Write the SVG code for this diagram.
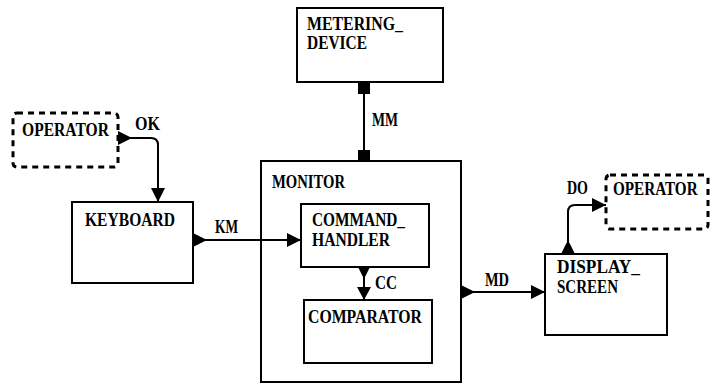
<svg xmlns="http://www.w3.org/2000/svg" width="714" height="386" viewBox="0 0 714 386">
<style>
.box{fill:#fff;stroke:#000;stroke-width:2}
.ext{fill:#fff;stroke:#000;stroke-width:3;stroke-dasharray:6 5}
.ln{fill:none;stroke:#000;stroke-width:2}
.ah{fill:#000;stroke:none}
text{font-family:"Liberation Serif","Times New Roman",serif;font-size:19px;font-weight:bold;fill:#000}
</style>
<rect width="714" height="386" fill="#fff"/>
<g id="metering-device">
<rect class="box" x="297" y="8" width="146" height="74"/>
<text x="307" y="30" textLength="96" lengthAdjust="spacingAndGlyphs">METERING_</text>
<text x="307" y="49" textLength="60" lengthAdjust="spacingAndGlyphs">DEVICE</text>
</g>
<g id="operator-in">
<rect class="ext" x="13" y="113" width="105" height="54" rx="4"/>
<text x="22" y="136" textLength="87" lengthAdjust="spacingAndGlyphs">OPERATOR</text>
</g>
<g id="keyboard">
<rect class="box" x="72" y="202" width="121" height="81"/>
<text x="85" y="226" textLength="90" lengthAdjust="spacingAndGlyphs">KEYBOARD</text>
</g>
<g id="monitor">
<rect class="box" x="261" y="161" width="200" height="221"/>
<text x="272" y="188" textLength="73" lengthAdjust="spacingAndGlyphs">MONITOR</text>
</g>
<g id="command-handler">
<rect class="box" x="301" y="204" width="128" height="63"/>
<text x="312" y="226" textLength="93" lengthAdjust="spacingAndGlyphs">COMMAND_</text>
<text x="312" y="246" textLength="78" lengthAdjust="spacingAndGlyphs">HANDLER</text>
</g>
<g id="comparator">
<rect class="box" x="304" y="300" width="128" height="63"/>
<text x="308" y="323" textLength="114" lengthAdjust="spacingAndGlyphs">COMPARATOR</text>
</g>
<g id="display-screen">
<rect class="box" x="545" y="254" width="122" height="81"/>
<text x="557" y="273" textLength="83" lengthAdjust="spacingAndGlyphs">DISPLAY_</text>
<text x="557" y="293" textLength="61" lengthAdjust="spacingAndGlyphs">SCREEN</text>
</g>
<g id="operator-out">
<rect class="ext" x="606" y="175" width="102" height="54" rx="4"/>
<text transform="translate(613,195) scale(0.8,1)" x="0" y="0">OPERATOR</text>
</g>
<g id="connectors">
<path class="ln" d="M118,138 H151 Q158,138 158,145 V202"/>
<polygon class="ah" points="118,131 118,145 132,138"/>
<polygon class="ah" points="151,188 165,188 158,202"/>
<text x="135" y="130" textLength="25" lengthAdjust="spacingAndGlyphs">OK</text>
<line class="ln" x1="364" y1="82" x2="364" y2="161"/>
<rect class="ah" x="358" y="82" width="12" height="12"/>
<rect class="ah" x="358" y="150" width="12" height="11"/>
<text x="372" y="126" textLength="26" lengthAdjust="spacingAndGlyphs">MM</text>
<line class="ln" x1="193" y1="240" x2="301" y2="240"/>
<polygon class="ah" points="193,233 193,247 207,240"/>
<polygon class="ah" points="287,233 287,247 301,240"/>
<text x="215" y="233" textLength="23" lengthAdjust="spacingAndGlyphs">KM</text>
<line class="ln" x1="364" y1="267" x2="364" y2="300"/>
<polygon class="ah" points="358,267 370,267 364,279"/>
<polygon class="ah" points="357,287 371,287 364,300"/>
<text x="375" y="289" textLength="22" lengthAdjust="spacingAndGlyphs">CC</text>
<line class="ln" x1="461" y1="292" x2="545" y2="292"/>
<polygon class="ah" points="461,285 461,299 475,292"/>
<polygon class="ah" points="531,285 531,299 545,292"/>
<text x="485" y="286" textLength="24" lengthAdjust="spacingAndGlyphs">MD</text>
<path class="ln" d="M568,254 V212 Q568,205 575,205 H606"/>
<polygon class="ah" points="561,254 575,254 568,240"/>
<polygon class="ah" points="592,198 592,212 606,205"/>
<text x="567" y="194" textLength="21" lengthAdjust="spacingAndGlyphs">DO</text>
</g>
</svg>
